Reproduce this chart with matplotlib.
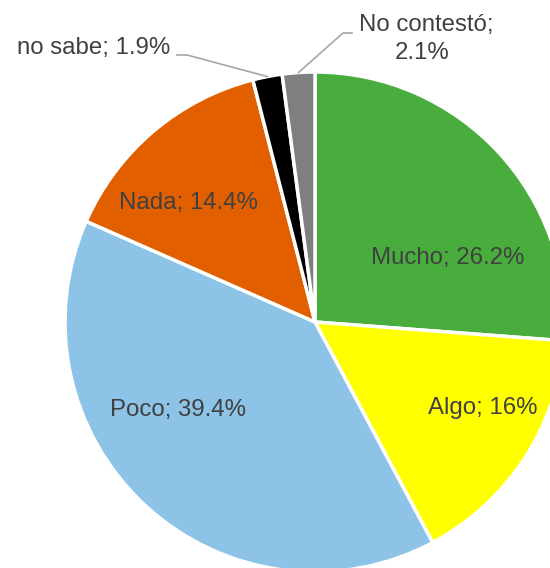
import numpy as np
import matplotlib
matplotlib.use("Agg")
import matplotlib.pyplot as plt

# slice data, clockwise from 12 o'clock
categories = ["Mucho", "Algo", "Poco", "Nada", "no sabe", "No contestó"]
values = [26.2, 16, 39.4, 14.4, 1.9, 2.1]
value_text = ["26.2%", "16%", "39.4%", "14.4%", "1.9%", "2.1%"]
colors = ["#48ad3c", "#ffff00", "#8ec3e8", "#e25f00", "#000000", "#7f7f7f"]

W, H = 550, 568
cx, cy, R = 315, H - 322, 250

fig = plt.figure(figsize=(W / 100, H / 100), dpi=100)
ax = fig.add_axes([0, 0, 1, 1])

wedges, _ = ax.pie(values, colors=colors, startangle=90, counterclock=False,
                   center=(cx, cy), radius=R, frame=True,
                   wedgeprops=dict(edgecolor="white", linewidth=2.5))
ax.set_xlim(0, W)
ax.set_ylim(0, H)
ax.set_aspect("equal")
ax.axis("off")

txt = dict(fontsize=17.3, color="#404040", family="Liberation Sans",
           ha="center", va="center")

# label positions (pixels from top-left)
label_pos = {
    "Mucho": (448, 258),
    "Algo": (483, 408),
    "Poco": (178, 410),
    "Nada": (188, 203),
    "no sabe": (94, 48),
}
for name, v in zip(categories, value_text):
    if name in label_pos:
        x, y = label_pos[name]
        ax.text(x, H - y, f"{name}; {v}", **txt)
ax.text(426, H - 25, "No contestó;", **txt)
ax.text(422, H - 53, value_text[5], **txt)

# leader lines from the small wedges' outer edge
cum = np.cumsum([0] + values)
def edge_point(i):
    mid = (cum[i] + cum[i + 1]) / 2 / 100 * 2 * np.pi
    return cx + R * np.sin(mid), cy + R * np.cos(mid)

ex, ey = edge_point(4)
ax.plot([177, 187, ex], [H - 55, H - 55, ey], color="#a6a6a6", lw=1.2)
ex, ey = edge_point(5)
ax.plot([ex, 343, 352], [ey, H - 33, H - 33], color="#a6a6a6", lw=1.2)

fig.savefig("out.png", dpi=100)
